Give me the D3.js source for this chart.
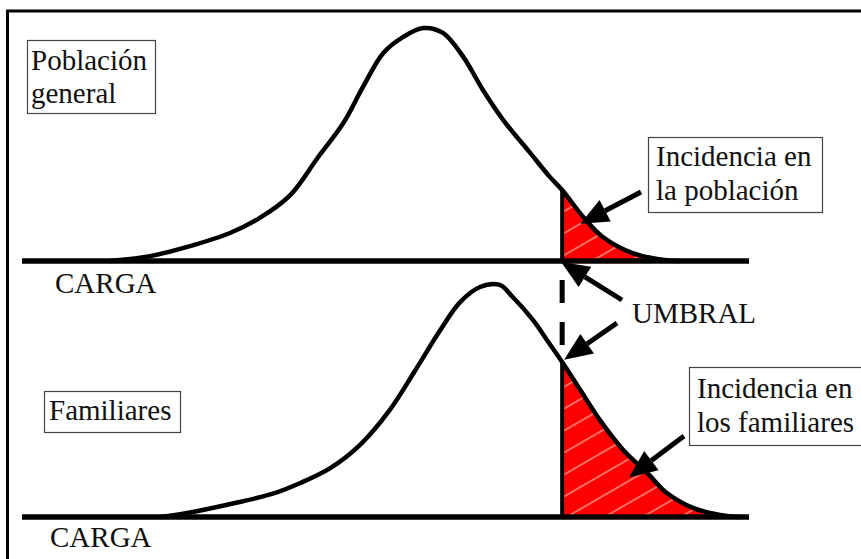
<!DOCTYPE html>
<html>
<head>
<meta charset="utf-8">
<script src="https://cdn.jsdelivr.net/npm/d3@7"></script>
</head>
<body style="margin:0">
<script>
// Carga (liability) values and relative density
const cargaPoblacion = [12.1, 17.6, 23.1, 28.6, 32.7, 36.9, 40.6, 44.2, 46.9, 49.7, 52.4, 55.2, 57.9, 60.7, 63.4, 66.2, 69.9, 72.6, 74.3, 77.2, 79.9, 84.0, 88.4, 90.5];
const densidadPoblacion = [0, 0.021, 0.064, 0.12, 0.185, 0.283, 0.44, 0.592, 0.747, 0.893, 0.961, 1.0, 0.979, 0.876, 0.734, 0.605, 0.464, 0.361, 0.305, 0.189, 0.103, 0.034, 0.004, 0];

const cargaFamiliares = [19.0, 22.7, 29.0, 34.5, 38.2, 42.4, 46.5, 50.6, 54.1, 57.5, 60.2, 63.0, 65.7, 67.5, 70.3, 72.2, 74.3, 76.8, 79.5, 82.7, 86.0, 88.7, 92.3, 96.0, 98.8];
const densidadFamiliares = [0, 0.017, 0.058, 0.10, 0.145, 0.21, 0.31, 0.46, 0.63, 0.80, 0.92, 0.987, 0.996, 0.944, 0.845, 0.76, 0.665, 0.545, 0.416, 0.288, 0.189, 0.103, 0.039, 0.009, 0];

const umbral = 74.3;

const panelLabels = [["Población", "general"], ["Familiares"]];
const incidenciaLabels = [["Incidencia en", "la población"], ["Incidencia en", "los familiares"]];
const axisLabel = "CARGA";
const umbralLabel = "UMBRAL";

const width = 861, height = 559;

const svg = d3.select("body")
    .append("svg")
    .attr("width", width)
    .attr("height", height)
    .style("display", "block");

svg.append("rect")
    .attr("width", width)
    .attr("height", height)
    .attr("fill", "#fff");

// outer frame (only top and left edges fall inside the picture)
svg.append("rect")
    .attr("x", 7.5)
    .attr("y", 11)
    .attr("width", width + 20)
    .attr("height", height + 20)
    .attr("fill", "none")
    .attr("stroke", "#000")
    .attr("stroke-width", 3);

const x = d3.scaleLinear().domain([0, 100]).range([22, 749]);
const yTop = d3.scaleLinear().domain([0, 1]).range([261, 28]);
const yBot = d3.scaleLinear().domain([0, 1]).range([517, 284]);

function label(tx, ty, t) {
    return svg.append("text")
        .attr("x", tx)
        .attr("y", ty)
        .attr("font-size", 29)
        .attr("fill", "#111")
        .style("font-family", "'Liberation Serif'")
        .text(t);
}

// hatch for the red tails
const defs = svg.append("defs");
const hatch = defs.append("pattern")
    .attr("id", "hatch")
    .attr("patternUnits", "userSpaceOnUse")
    .attr("width", 40)
    .attr("height", 19)
    .attr("patternTransform", "rotate(-30)");
hatch.append("rect")
    .attr("width", 40).attr("height", 19)
    .attr("fill", "#ff0000");
hatch.append("line")
    .attr("x1", 0).attr("x2", 40)
    .attr("y1", 9).attr("y2", 9)
    .attr("stroke", "#f4d8c4")
    .attr("stroke-width", 1.2);

defs.append("clipPath")
    .attr("id", "tail")
    .append("rect")
    .attr("x", x(umbral))
    .attr("y", 0)
    .attr("width", width)
    .attr("height", height);

const panels = [
    { carga: cargaPoblacion, dens: densidadPoblacion, y: yTop },
    { carga: cargaFamiliares, dens: densidadFamiliares, y: yBot }
];

panels.forEach((p, i) => {
    const pts = p.carga.map((c, j) => [c, p.dens[j]]);
    const g = svg.append("g");

    const area = d3.area()
        .x(d => x(d[0]))
        .y0(p.y(0))
        .y1(d => p.y(d[1]))
        .curve(d3.curveCatmullRom);

    g.append("path")
        .datum(pts)
        .attr("d", area)
        .attr("clip-path", "url(#tail)")
        .attr("fill", "url(#hatch)");

    // baseline
    g.append("line")
        .attr("x1", x(0)).attr("x2", x(100))
        .attr("y1", p.y(0)).attr("y2", p.y(0))
        .attr("stroke", "#000")
        .attr("stroke-width", 5.5);

    // threshold line inside the tail
    const cut = pts.find(d => d[0] === umbral);
    g.append("line")
        .attr("x1", x(umbral)).attr("x2", x(umbral))
        .attr("y1", p.y(0)).attr("y2", p.y(cut[1]))
        .attr("stroke", "#000")
        .attr("stroke-width", 4);

    const line = d3.line()
        .x(d => x(d[0]))
        .y(d => p.y(d[1]))
        .curve(d3.curveCatmullRom);

    g.append("path")
        .datum(pts)
        .attr("d", line)
        .attr("fill", "none")
        .attr("stroke", "#000")
        .attr("stroke-width", 4.5)
        .attr("stroke-linejoin", "round");

    label(i === 0 ? 55 : 50, p.y(0) + (i === 0 ? 32 : 30), axisLabel);
});

// dashed link between both thresholds
svg.append("line")
    .attr("x1", x(umbral)).attr("x2", x(umbral))
    .attr("y1", 280).attr("y2", 345)
    .attr("stroke", "#000")
    .attr("stroke-width", 5)
    .attr("stroke-dasharray", "23,19");

// boxed labels
function boxLabel(lines, bx, by, bw, bh, tx, baseline, lineGap) {
    svg.append("rect")
        .attr("x", bx).attr("y", by)
        .attr("width", bw).attr("height", bh)
        .attr("fill", "#fff")
        .attr("stroke", "#444")
        .attr("stroke-width", 1.2);
    lines.forEach((t, k) => label(tx, baseline + k * lineGap, t));
}

boxLabel(panelLabels[0], 27.5, 40.5, 128, 73, 31, 70, 33);
boxLabel(panelLabels[1], 44.5, 391.5, 136, 41, 49, 420, 0);
boxLabel(incidenciaLabels[0], 648.5, 137.5, 174, 75, 656, 166, 34);
boxLabel(incidenciaLabels[1], 689.5, 367.5, 180, 78, 697, 398, 34);

label(632, 323, umbralLabel);

// arrows: tail in px, tip on the curves
function arrow(x1, y1, x2, y2) {
    const ang = Math.atan2(y2 - y1, x2 - x1);
    const len = 28, half = 12;
    const bx = x2 - len * Math.cos(ang), by = y2 - len * Math.sin(ang);
    svg.append("line")
        .attr("x1", x1).attr("y1", y1)
        .attr("x2", bx).attr("y2", by)
        .attr("stroke", "#000")
        .attr("stroke-width", 5);
    svg.append("path")
        .attr("d", d3.line()([
            [x2, y2],
            [bx + half * Math.sin(ang), by - half * Math.cos(ang)],
            [bx - half * Math.sin(ang), by + half * Math.cos(ang)]
        ]) + "Z")
        .attr("fill", "#000");
}

arrow(641, 192, x(76.8), yTop(0.16));
arrow(622, 300, x(umbral) - 1, yTop(0) + 1);
arrow(617, 323, x(umbral) + 2, yBot(0.675));
arrow(684, 436, x(83.5), yBot(0.17));
</script>
</body>
</html>
